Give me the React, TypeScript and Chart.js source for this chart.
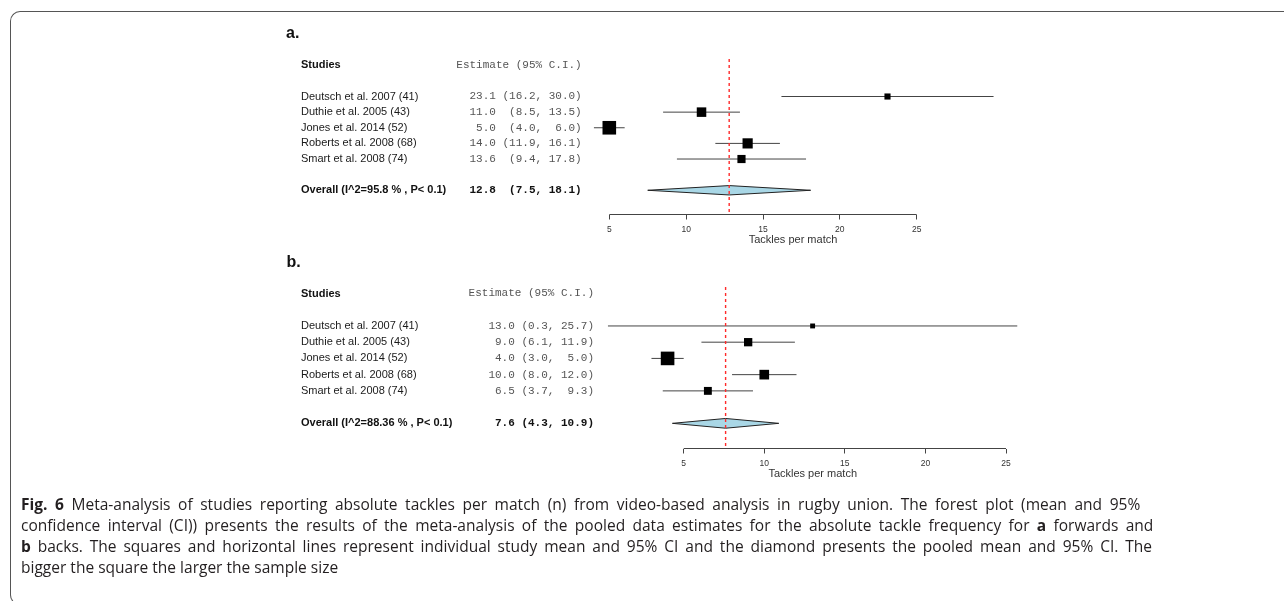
import React, { useEffect, useLayoutEffect, useRef, useState } from "react";
import { Chart, registerables } from "chart.js";

Chart.register(...registerables);
Chart.defaults.font.family = '"Liberation Sans", Arial, Helvetica, sans-serif';

// ---------------- DATA ----------------
const studies = [
  "Deutsch et al. 2007 (41)",
  "Duthie et al. 2005 (43)",
  "Jones et al. 2014 (52)",
  "Roberts et al. 2008 (68)",
  "Smart et al. 2008 (74)",
];

// a. forwards
const estA = [23.1, 11.0, 5.0, 14.0, 13.6];
const lowA = [16.2, 8.5, 4.0, 11.9, 9.4];
const highA = [30.0, 13.5, 6.0, 16.1, 17.8];
const boxA = [0.45, 0.7, 1.0, 0.75, 0.6];
const overallLabelA = "Overall (I^2=95.8 % , P< 0.1)";
const overallA = [12.8, 7.5, 18.1];

// b. backs
const estB = [13.0, 9.0, 4.0, 10.0, 6.5];
const lowB = [0.3, 6.1, 3.0, 8.0, 3.7];
const highB = [25.7, 11.9, 5.0, 12.0, 9.3];
const boxB = [0.36, 0.61, 1.0, 0.71, 0.58];
const overallLabelB = "Overall (I^2=88.36 % , P< 0.1)";
const overallB = [7.6, 4.3, 10.9];

const xTicks = [5, 10, 15, 20, 25];
const xView = [0, 30];
const xLabel = "Tackles per match";
const headerStudies = "Studies";
const headerEstimate = "Estimate (95% C.I.)";

const captionLines = [
  [
    { b: true, t: "Fig. 6" },
    { t: " Meta-analysis of studies reporting absolute tackles per match (n) from video-based analysis in rugby union. The forest plot (mean and 95%" },
  ],
  [
    { t: "confidence interval (CI)) presents the results of the meta-analysis of the pooled data estimates for the absolute tackle frequency for " },
    { b: true, t: "a" },
    { t: " forwards and" },
  ],
  [
    { b: true, t: "b" },
    { t: " backs. The squares and horizontal lines represent individual study mean and 95% CI and the diamond presents the pooled mean and 95% CI. The" },
  ],
  [{ t: "bigger the square the larger the sample size" }],
];

// ---------------- LAYOUT / STYLE ----------------
const ROW_MIN = -0.4;
const ROW_MAX = 9.55;
const ROW_HEADER = 0;
const ROW_FIRST = 2;
const ROW_OVERALL = 8;
const DIAMOND_H = 0.3;
const MAX_SIDE = 13.6;
const AXIS_H = 30;

type PanelLayout = {
  tag: string;
  top: number;
  height: number;
  areaTop: number;
  areaBottom: number;
  px5: number;
  px25: number;
  labelX: number;
  estRight: number;
  tagX: number;
  tagBaseline: number;
  titleX: number;
  titleY: number;
};

const LAYOUT_A: PanelLayout = {
  tag: "a.",
  top: 0,
  height: 250,
  areaTop: 59,
  areaBottom: 214.5,
  px5: 609.3,
  px25: 916.7,
  labelX: 301,
  estRight: 581.7,
  tagX: 286,
  tagBaseline: 38.3,
  titleX: 793,
  titleY: 240,
};

const LAYOUT_B: PanelLayout = {
  tag: "b.",
  top: 250,
  height: 251,
  areaTop: 37,
  areaBottom: 198.5,
  px5: 683.7,
  px25: 1006,
  labelX: 301,
  estRight: 594,
  tagX: 286.5,
  tagBaseline: 16.7,
  titleX: 812.7,
  titleY: 224.3,
};

function formatEstimates(est: number[], low: number[], high: number[]): string[] {
  const e = est.map((v) => v.toFixed(1));
  const l = low.map((v) => "(" + v.toFixed(1));
  const h = high.map((v) => v.toFixed(1));
  const we = Math.max(...e.map((s) => s.length));
  const wl = Math.max(...l.map((s) => s.length));
  const wh = Math.max(...h.map((s) => s.length));
  return e.map((_, i) => e[i].padStart(we) + " " + l[i].padStart(wl) + ", " + h[i].padStart(wh) + ")");
}

type PanelData = {
  est: number[];
  low: number[];
  high: number[];
  box: number[];
  overallLabel: string;
  overall: number[];
};

function ForestPanel({ layout, data }: { layout: PanelLayout; data: PanelData }) {
  const ref = useRef<HTMLCanvasElement | null>(null);

  useEffect(() => {
    if (!ref.current) return;
    const { est, low, high, box, overallLabel, overall } = data;
    const [oEst, oLow, oHigh] = overall;
    const estStrings = formatEstimates([...est, oEst], [...low, oLow], [...high, oHigh]);

    const t0 = xTicks[0];
    const t1 = xTicks[xTicks.length - 1];
    const ppu = (layout.px25 - layout.px5) / (t1 - t0);
    const areaLeft = layout.px5 - (t0 - xView[0]) * ppu;
    const areaRight = layout.px5 + (xView[1] - t0) * ppu;

    const textPlugin = {
      id: "forestText",
      afterDraw(chart: any) {
        const ctx = chart.ctx as CanvasRenderingContext2D;
        const ys = chart.scales.y;
        ctx.save();
        ctx.fillStyle = "#111";
        ctx.textAlign = "left";
        ctx.textBaseline = "alphabetic";
        ctx.font = 'bold 16px "Liberation Sans", Arial, sans-serif';
        ctx.fillText(layout.tag, layout.tagX, layout.tagBaseline);

        ctx.textBaseline = "middle";
        ctx.font = 'bold 11px "Liberation Sans", Arial, sans-serif';
        ctx.fillText(headerStudies, layout.labelX, ys.getPixelForValue(ROW_HEADER));
        ctx.font = '11px "Liberation Mono", "Courier New", monospace';
        ctx.fillStyle = "#555";
        ctx.textAlign = "right";
        ctx.fillText(headerEstimate, layout.estRight, ys.getPixelForValue(ROW_HEADER));

        studies.forEach((s, i) => {
          const py = ys.getPixelForValue(ROW_FIRST + i);
          ctx.textAlign = "left";
          ctx.fillStyle = "#1a1a1a";
          ctx.font = '11px "Liberation Sans", Arial, sans-serif';
          ctx.fillText(s, layout.labelX, py);
          ctx.textAlign = "right";
          ctx.fillStyle = "#555";
          ctx.font = '11px "Liberation Mono", "Courier New", monospace';
          ctx.fillText(estStrings[i], layout.estRight, py);
        });

        const po = ys.getPixelForValue(ROW_OVERALL);
        ctx.textAlign = "left";
        ctx.fillStyle = "#111";
        ctx.font = 'bold 11px "Liberation Sans", Arial, sans-serif';
        ctx.fillText(overallLabel, layout.labelX, po);
        ctx.textAlign = "right";
        ctx.font = 'bold 11px "Liberation Mono", "Courier New", monospace';
        ctx.fillText(estStrings[studies.length], layout.estRight, po);

        ctx.textAlign = "center";
        ctx.fillStyle = "#333";
        ctx.font = '11px "Liberation Sans", Arial, sans-serif';
        ctx.fillText(xLabel, layout.titleX, layout.titleY);
        ctx.restore();
      },
    };

    const rowY = (i: number) => ROW_FIRST + i;
    const diamond = [
      { x: oLow, y: ROW_OVERALL },
      { x: oEst, y: ROW_OVERALL - DIAMOND_H },
      { x: oHigh, y: ROW_OVERALL },
      { x: oEst, y: ROW_OVERALL + DIAMOND_H },
      { x: oLow, y: ROW_OVERALL },
    ];

    const datasets: any[] = [
      {
        label: "reference",
        data: [
          { x: oEst, y: ROW_MIN },
          { x: oEst, y: ROW_MAX },
        ],
        showLine: true,
        borderColor: "#ff2a2a",
        borderWidth: 1.4,
        borderDash: [3, 3],
        pointRadius: 0,
        order: 0,
        clip: false,
      },
      {
        label: "estimates",
        data: est.map((v, i) => ({ x: v, y: rowY(i) })),
        showLine: false,
        pointStyle: "rect",
        pointRadius: (c: any) => (box[c.dataIndex] * MAX_SIDE) / Math.SQRT2,
        pointBackgroundColor: "#000",
        pointBorderColor: "#000",
        pointBorderWidth: 0,
        order: 1,
        clip: false,
      },
      {
        label: "overall",
        data: diamond,
        showLine: true,
        borderColor: "#222",
        borderWidth: 1,
        backgroundColor: "#a9d7e6",
        fill: "shape",
        pointRadius: 0,
        order: 2,
        clip: false,
      },
      ...studies.map((s, i) => ({
        label: s,
        data: [
          { x: low[i], y: rowY(i) },
          { x: high[i], y: rowY(i) },
        ],
        showLine: true,
        borderColor: "#444",
        borderWidth: 1,
        pointRadius: 0,
        order: 3,
        clip: false,
      })),
      {
        label: "axis",
        data: [
          { x: t0, y: ROW_MAX },
          { x: t1, y: ROW_MAX },
        ],
        showLine: true,
        borderColor: "#444",
        borderWidth: 1,
        pointRadius: 0,
        order: 4,
        clip: false,
      },
    ];

    const chart = new Chart(ref.current, {
      type: "scatter",
      data: { datasets },
      plugins: [textPlugin],
      options: {
        responsive: false,
        animation: false,
        events: [],
        layout: {
          padding: {
            top: layout.areaTop,
            left: areaLeft,
            right: 1284 - areaRight,
            bottom: layout.height - layout.areaBottom - AXIS_H,
          },
        },
        plugins: {
          legend: { display: false },
          tooltip: { enabled: false },
          title: { display: false },
        },
        scales: {
          x: {
            type: "linear",
            position: "bottom",
            min: xView[0],
            max: xView[1],
            afterFit: (scale: any) => {
              scale.height = AXIS_H;
            },
            afterBuildTicks: (scale: any) => {
              scale.ticks = xTicks.map((v) => ({ value: v }));
            },
            grid: {
              display: true,
              drawOnChartArea: false,
              drawTicks: true,
              tickLength: 5,
              color: "#444",
              lineWidth: 1,
            },
            border: { display: false },
            ticks: {
              color: "#333",
              font: { size: 8.5 },
              padding: 5,
              maxRotation: 0,
              autoSkip: false,
            },
          },
          y: {
            type: "linear",
            display: false,
            reverse: true,
            min: ROW_MIN,
            max: ROW_MAX,
          },
        },
      } as any,
    });
    return () => chart.destroy();
  }, [layout, data]);

  return (
    <canvas
      ref={ref}
      width={1284}
      height={layout.height}
      style={{ position: "absolute", left: 0, top: layout.top, width: 1284, height: layout.height }}
    />
  );
}

const PANEL_A: PanelData = { est: estA, low: lowA, high: highA, box: boxA, overallLabel: overallLabelA, overall: overallA };
const PANEL_B: PanelData = { est: estB, low: lowB, high: highB, box: boxB, overallLabel: overallLabelB, overall: overallB };

const CAPTION_LEFT = 20.7;
const CAPTION_RIGHTS = [1140, 1153, 1151.7];
const CAPTION_TOPS = [494, 515, 536, 557.2];
const CAPTION_FILL = 0.93; // natural width of first line relative to its justified width

function Caption() {
  const firstRef = useRef<HTMLSpanElement | null>(null);
  const [scale, setScale] = useState(1);
  const [ready, setReady] = useState(false);

  useLayoutEffect(() => {
    const el = firstRef.current;
    if (!el) return;
    const w = el.offsetWidth;
    if (w > 0) setScale(((CAPTION_RIGHTS[0] - CAPTION_LEFT) * CAPTION_FILL) / w);
    setReady(true);
  }, []);

  const n = captionLines.length;
  return (
    <>
      {captionLines.map((line, i) => {
        const justify = ready && i < n - 1;
        return (
          <div
            key={i}
            style={{
              position: "absolute",
              left: CAPTION_LEFT,
              top: CAPTION_TOPS[i],
              width: justify ? (CAPTION_RIGHTS[i] - CAPTION_LEFT) / scale : undefined,
              whiteSpace: justify ? "normal" : "pre",
              textAlign: justify ? "justify" : "left",
              textAlignLast: justify ? "justify" : "auto",
              fontFamily: '"Open Sans", "Noto Sans", sans-serif',
              fontSize: 16,
              lineHeight: "21px",
              color: "#231f20",
              transform: `scaleX(${scale})`,
              transformOrigin: "left center",
            } as any}
          >
            <span ref={i === 0 ? firstRef : undefined} style={{ display: justify ? "inline" : "inline-block" }}>
              {line.map((seg: any, j) => (
                <span key={j} style={{ fontWeight: seg.b ? 700 : 400 }}>
                  {seg.t}
                </span>
              ))}
            </span>
          </div>
        );
      })}
    </>
  );
}

export default function App() {
  return (
    <div
      style={{
        position: "fixed",
        left: 0,
        top: 0,
        width: 1284,
        height: 601,
        overflow: "hidden",
        background: "#fff",
      }}
    >
      <div
        style={{
          position: "absolute",
          left: 10,
          top: 10.5,
          width: 1300,
          height: 594,
          borderTop: "1.5px solid #555",
          borderLeft: "1.5px solid #555",
          borderBottom: "1.5px solid #555",
          borderRadius: "10px 0 0 10px",
          boxSizing: "border-box",
        }}
      />
      <ForestPanel layout={LAYOUT_A} data={PANEL_A} />
      <ForestPanel layout={LAYOUT_B} data={PANEL_B} />
      <Caption />
    </div>
  );
}
